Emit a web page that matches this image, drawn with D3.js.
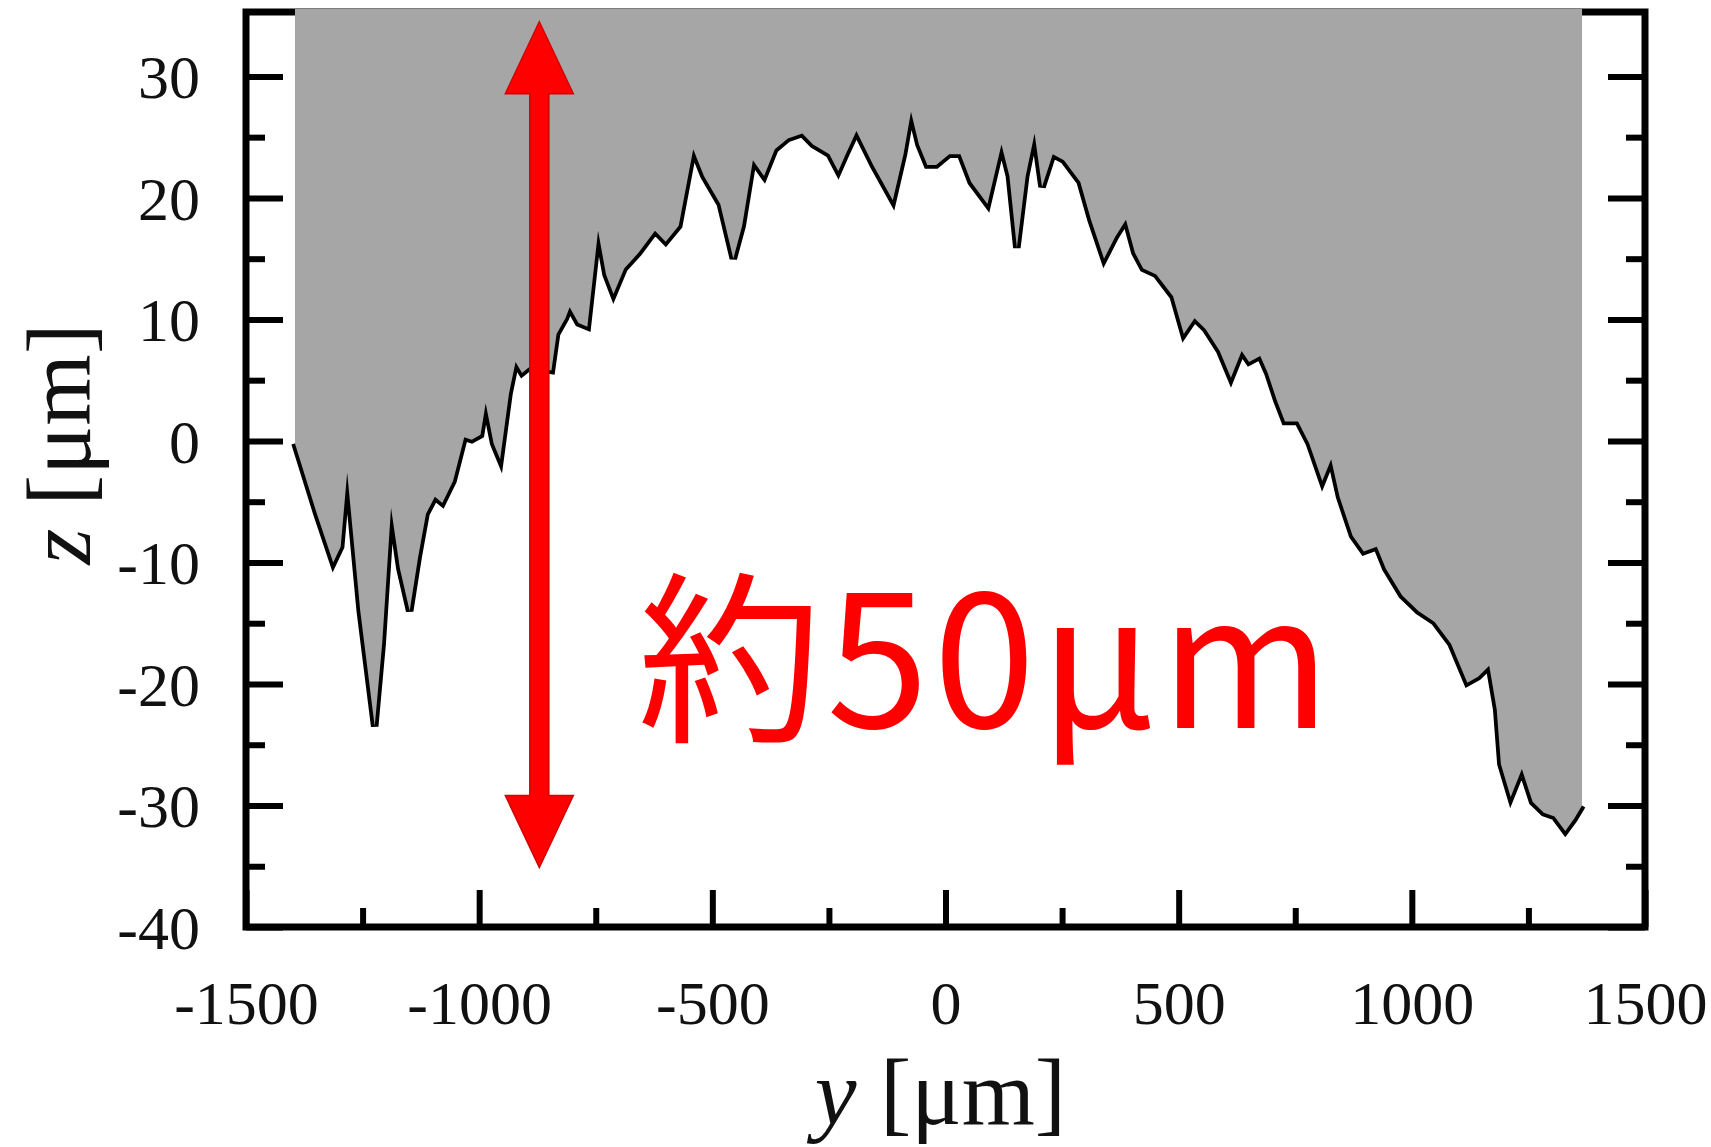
<!DOCTYPE html>
<html>
<head>
<meta charset="utf-8">
<script src="https://cdn.jsdelivr.net/npm/d3@7"></script>
<style>
  body { margin: 0; background: #fff; }
  svg { display: block; }
</style>
</head>
<body>
<div class="svg-container"></div>
<script>
// surface profile, y [um] vs z [um]
const profileY = [-1395,-1348,-1313,-1297,-1283,-1255,-1224,-1208,-1189,-1170,
  -1149,-1131,-1114,-1095,-1079,-1056,-1032,-1016,-997,-986,
  -969,-955,-936,-922,-908,-892,-845,-834,-815,-806,
  -787,-768,-745,-728,-712,-689,-658,-623,-600,-572,
  -541,-518,-483,-455,-436,-413,-389,-366,-338,-307,
  -284,-249,-230,-214,-191,-155,-113,-90,-74,-57,
  -39,-20,8,32,55,90,120,137,153,172,
  191,207,230,254,289,312,340,364,387,406,
  424,452,488,511,534,558,588,612,635,651,
  675,691,710,728,756,780,808,827,845,873,
  897,925,944,979,1014,1049,1084,1119,1142,1166,
  1182,1191,1212,1236,1259,1283,1306,1329,1348,1365];
const profileZ = [-0.2,-6.0,-10.0,-8.7,-2.6,-14.0,-23.5,-16.7,-5.5,-10.5,
  -14.0,-9.6,-6.0,-4.6,-5.1,-3.3,0.3,0.1,0.5,3.1,
  -0.2,-1.5,3.9,6.5,5.6,6.1,5.8,8.8,10.1,11.0,
  9.7,9.4,17.3,13.7,12.1,14.2,15.5,17.3,16.4,17.7,
  24.0,21.8,19.5,15.0,17.7,23.1,21.8,24.0,24.9,25.3,
  24.4,23.6,22.2,23.6,25.5,22.7,19.8,23.6,27.1,24.4,
  22.7,22.7,23.6,23.6,21.3,19.5,24.4,21.8,15.9,21.8,
  25.3,20.9,23.6,23.1,21.3,18.2,15.0,16.8,18.2,15.5,
  14.2,13.7,11.9,8.8,10.1,9.2,7.4,5.2,7.4,6.5,
  7.0,5.6,3.4,1.6,1.6,-0.2,-3.3,-1.5,-4.6,-7.8,
  -9.1,-8.7,-10.5,-12.7,-14.0,-14.9,-16.7,-19.9,-19.4,-18.5,
  -22.1,-26.6,-29.3,-27.0,-29.7,-30.6,-30.9,-32.1,-31.1,-30.0];

const xTicks = [-1500, -1000, -500, 0, 500, 1000, 1500];
const xMinorTicks = [-1250, -750, -250, 250, 750, 1250];
const zTicks = [-40, -30, -20, -10, 0, 10, 20, 30];
const zMinorTicks = [-35, -25, -15, -5, 5, 15, 25];

// annotation: arrow of about 50 um
const arrowY = -871;
const arrowZ = [34.5, -35.1];
const noteText = "約50μm";
const noteAt = [-660, -23.6];

const W = 1711, H = 1147;
const frame = {left: 246, right: 1645, top: 12, bottom: 927};

const svg = d3.select('.svg-container')
  .append('svg')
  .attr('width', W)
  .attr('height', H);

const x = d3.scaleLinear().domain([-1500, 1500]).range([frame.left, frame.right]);
const y = d3.scaleLinear().domain([-40, 35.3]).range([frame.bottom, frame.top]);

const data = profileY.map((v, i) => ({y: v, z: profileZ[i]}));

const serif = '"Liberation Serif", "Times New Roman", serif';
const fmt = d => String(d);

// frame
svg.append('rect')
  .attr('x', frame.left).attr('y', frame.top)
  .attr('width', frame.right - frame.left)
  .attr('height', frame.bottom - frame.top)
  .attr('fill', 'none')
  .attr('stroke', '#000')
  .attr('stroke-width', 7);

function styleAxis(g, size) {
  g.select('.domain').remove();
  g.selectAll('.tick line').attr('stroke', '#000').attr('stroke-width', 6);
  g.selectAll('text')
    .attr('fill', '#111')
    .style('font-family', serif)
    .style('font-size', size + 'px');
}

// bottom axis
svg.append('g')
  .attr('transform', `translate(0,${frame.bottom})`)
  .call(d3.axisBottom(x).tickValues(xTicks).tickSize(-37).tickPadding(53).tickFormat(fmt))
  .call(g => styleAxis(g, 62));
svg.append('g')
  .attr('transform', `translate(0,${frame.bottom})`)
  .call(d3.axisBottom(x).tickValues(xMinorTicks).tickSize(-19).tickFormat(''))
  .call(g => styleAxis(g, 62));

// left axis
svg.append('g')
  .attr('transform', `translate(${frame.left},0)`)
  .call(d3.axisLeft(y).tickValues(zTicks).tickSize(-37).tickPadding(46).tickFormat(fmt))
  .call(g => styleAxis(g, 62))
  .call(g => g.selectAll('text').attr('dy', '0.34em'));
svg.append('g')
  .attr('transform', `translate(${frame.left},0)`)
  .call(d3.axisLeft(y).tickValues(zMinorTicks).tickSize(-19).tickFormat(''))
  .call(g => styleAxis(g, 62));

// right axis
svg.append('g')
  .attr('transform', `translate(${frame.right},0)`)
  .call(d3.axisRight(y).tickValues(zTicks).tickSize(-37).tickFormat(''))
  .call(g => styleAxis(g, 62));
svg.append('g')
  .attr('transform', `translate(${frame.right},0)`)
  .call(d3.axisRight(y).tickValues(zMinorTicks).tickSize(-19).tickFormat(''))
  .call(g => styleAxis(g, 62));

// measured line (under the fill so only its lower edge shows)
svg.append('path')
  .datum(data)
  .attr('fill', 'none')
  .attr('stroke', '#000')
  .attr('stroke-width', 7.5)
  .attr('stroke-linejoin', 'miter')
  .attr('d', d3.line().x(d => x(d.y)).y(d => y(d.z)));

// grey region above the surface
svg.append('path')
  .datum(data)
  .attr('fill', '#a6a6a6')
  .attr('d', d3.area().x(d => x(d.y)).y0(y(35.3) - 3).y1(d => y(d.z)));

// red double arrow
const ax = x(arrowY), yTop = y(arrowZ[0]), yBot = y(arrowZ[1]);
const headW = 34, headL = 72, shaftW = 9.5;
const arrowPath = d3.path();
arrowPath.moveTo(ax, yTop);
arrowPath.lineTo(ax + headW, yTop + headL);
arrowPath.lineTo(ax + shaftW, yTop + headL);
arrowPath.lineTo(ax + shaftW, yBot - headL);
arrowPath.lineTo(ax + headW, yBot - headL);
arrowPath.lineTo(ax, yBot);
arrowPath.lineTo(ax - headW, yBot - headL);
arrowPath.lineTo(ax - shaftW, yBot - headL);
arrowPath.lineTo(ax - shaftW, yTop + headL);
arrowPath.lineTo(ax - headW, yTop + headL);
arrowPath.closePath();
svg.append('path')
  .attr('d', arrowPath.toString())
  .attr('fill', '#ff0000')
  .attr('stroke', '#d40000')
  .attr('stroke-width', 1.5);

svg.append('text')
  .attr('x', x(noteAt[0]))
  .attr('y', y(noteAt[1]))
  .attr('fill', '#ff0000')
  .attr('textLength', 693)
  .attr('lengthAdjust', 'spacing')
  .style('font-family', '"Noto Sans CJK JP", "Noto Sans", sans-serif')
  .style('font-size', '184px')
  .text(noteText);

// axis titles
const xt = svg.append('text')
  .attr('x', (frame.left + frame.right) / 2 - 5)
  .attr('y', 1124)
  .attr('text-anchor', 'middle')
  .style('font-family', serif)
  .style('font-size', '94px')
  .attr('fill', '#111');
xt.append('tspan').style('font-style', 'italic').text('y');
xt.append('tspan').text(' [μm]');

const yt = svg.append('text')
  .attr('transform', `translate(60,${(y(0) + 3)}) rotate(-90)`)
  .attr('text-anchor', 'middle')
  .attr('dy', '0.33em')
  .style('font-family', serif)
  .style('font-size', '92px')
  .attr('fill', '#111');
yt.append('tspan').style('font-style', 'italic').text('z');
yt.append('tspan').text(' [μm]');
</script>
</body>
</html>
